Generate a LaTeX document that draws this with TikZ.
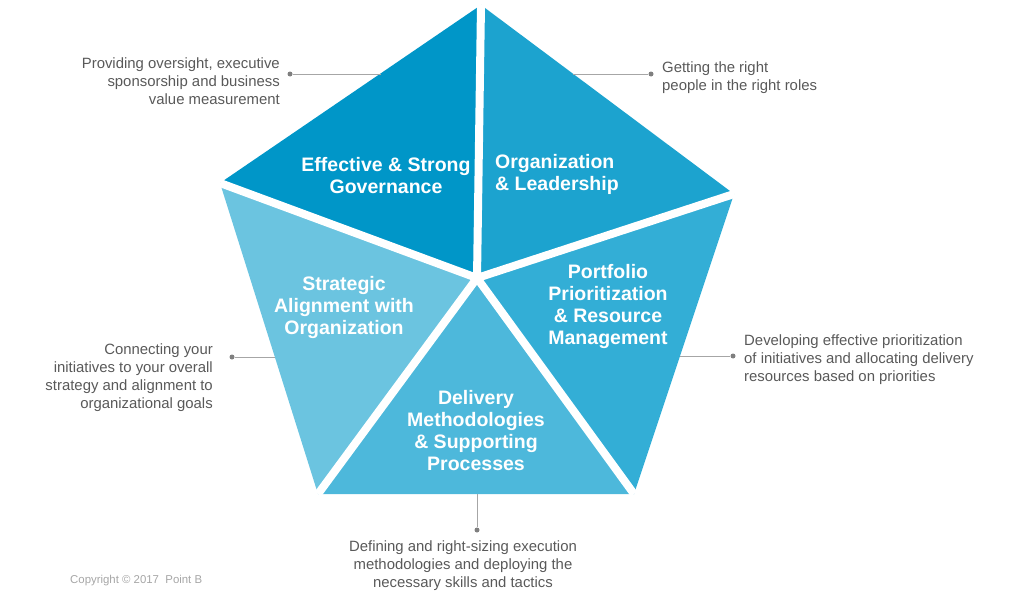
\documentclass[tikz,border=0pt]{standalone}
\usepackage{fontspec}
\setmainfont{Liberation Sans}
\definecolor{cgov}{HTML}{0096C8}
\definecolor{corg}{HTML}{1CA3CF}
\definecolor{cport}{HTML}{33AED6}
\definecolor{cdel}{HTML}{4DB8DB}
\definecolor{cstr}{HTML}{6BC4E0}
\definecolor{anntext}{HTML}{595959}
\definecolor{annline}{HTML}{A6A6A6}
\definecolor{anndot}{HTML}{7F7F7F}
\definecolor{copy}{HTML}{A6A6A6}
\tikzset{
  seg/.style={line width=8pt, white},
  lbl/.style={text=white, font=\fontsize{19.5}{22}\selectfont\bfseries, inner sep=0pt, align=center},
  ann/.style={text=anntext, font=\fontsize{14.9}{18}\selectfont, inner sep=0pt},
  dotn/.style={circle, fill=anndot, minimum size=5pt, inner sep=0pt},
  conn/.style={annline, line width=1pt}
}
\begin{document}
\begin{tikzpicture}[x=1pt,y=-1pt]
\useasboundingbox (0,0) rectangle (1024,602);
% pentagon vertices
\coordinate (C) at (477,278);
\coordinate (T) at (481,5);
\coordinate (L) at (220,183);
\coordinate (R) at (734,194);
\coordinate (BL) at (318,494);
\coordinate (BR) at (634,494);
% sectors
\fill[cgov] (C) -- (T) -- (L) -- cycle;
\fill[corg] (C) -- (T) -- (R) -- cycle;
\fill[cport] (C) -- (R) -- (BR) -- cycle;
\fill[cdel] (C) -- (BR) -- (BL) -- cycle;
\fill[cstr] (C) -- (BL) -- (L) -- cycle;
% gaps
\draw[seg] (C) -- (T);
\draw[seg] (C) -- (L);
\draw[seg] (C) -- (R);
\draw[seg] (C) -- (BL);
\draw[seg] (C) -- (BR);
% sector labels
\node[lbl] (gov) at (386,175.5) {Effective \& Strong\\Governance};
\node[lbl, align=left, anchor=west] (org) at (495,174) {Organization\\\& Leadership};
\node[lbl] (str) at (344,307) {Strategic\\Alignment with\\Organization};
\node[lbl] (port) at (608,306) {Portfolio\\Prioritization\\\& Resource\\Management};
\node[lbl] (del) at (476,430.5) {Delivery\\Methodologies\\\& Supporting\\Processes};
% annotation anchors on edges
\coordinate (egov) at (381,74);
\coordinate (eorg) at (573,74);
\coordinate (eport) at (680,356);
\coordinate (estr) at (275,357);
\coordinate (edel) at (477,494);
% dots
\node[dotn] (dgov) at (290,74) {};
\node[dotn] (dorg) at (651,74) {};
\node[dotn] (dport) at (733,356) {};
\node[dotn] (dstr) at (232,357) {};
\node[dotn] (ddel) at (477,530) {};
\draw[conn] (egov) -- (dgov);
\draw[conn] (eorg) -- (dorg);
\draw[conn] (eport) -- (dport);
\draw[conn] (estr) -- (dstr);
\draw[conn] (edel) -- (ddel);
% annotation texts
\node[ann, anchor=east, align=right] (tgov) at (280,81) {Providing oversight, executive\\sponsorship and business\\value measurement};
\node[ann, anchor=west, align=left] (torg) at (662,78) {Getting the right\\people in the right roles};
\node[ann, anchor=west, align=left] (tport) at (744,360) {Developing effective prioritization\\of initiatives and allocating delivery\\resources based on priorities};
\node[ann, anchor=east, align=right] (tstr) at (213,378) {Connecting your\\initiatives to your overall\\strategy and alignment to\\organizational goals};
\node[ann, align=center] (tdel) at (463,566) {Defining and right-sizing execution\\methodologies and deploying the\\necessary skills and tactics};
\node[text=copy, font=\fontsize{11.4}{14}\selectfont, inner sep=0pt, anchor=west] (cpy) at (70,581) {Copyright © 2017\ \ Point B};
\end{tikzpicture}
\end{document}
